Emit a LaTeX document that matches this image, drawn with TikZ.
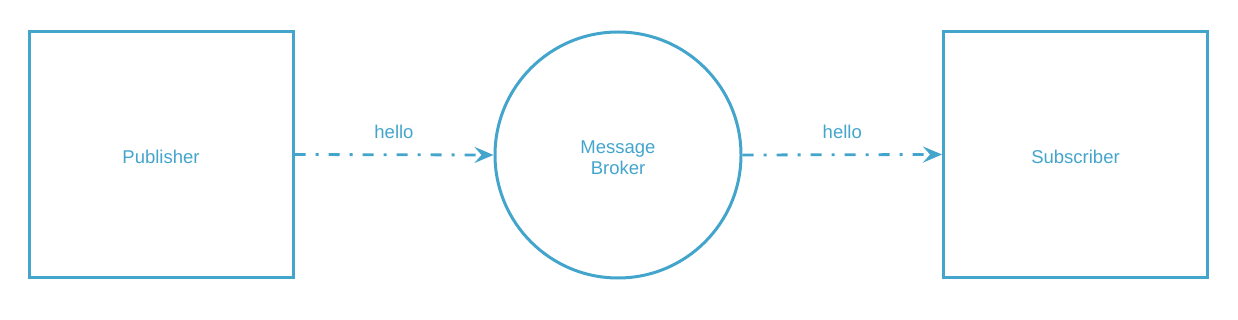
\documentclass[tikz,border=0pt]{standalone}
\usepackage{fontspec}
\setmainfont{Liberation Sans}
\usetikzlibrary{arrows.meta}
\definecolor{bl}{HTML}{44A5CC}
\tikzset{fnt/.style={font=\fontsize{18.5pt}{21.5pt}\selectfont}}
\begin{document}
\begin{tikzpicture}[x=1pt,y=-1pt,
  box/.style={draw=bl,line width=3pt,minimum width=264pt,minimum height=245pt,inner sep=0pt,text=bl,fnt},
  circ/.style={draw=bl,line width=3pt,circle,minimum size=246pt,inner sep=0pt,text=bl,align=center,fnt},
  flow/.style={draw=bl,line width=2.8pt,dash pattern=on 11pt off 10pt on 3pt off 10pt,-{Stealth[length=19pt,width=16pt,inset=7pt]}},
  lbl/.style={text=bl,fnt}]
\useasboundingbox (0,0) rectangle (1238,320);
\node[box] (pub) at (161,154.5) {};
\node[text=bl,fnt] (publbl) at (161,157) {Publisher};
\node[circ] (mb) at (618,155) {};
\node[text=bl,fnt,align=center] (mblbl) at (618,157.5) {Message\\Broker};
\node[box] (sub) at (1075.5,154.5) {};
\node[text=bl,fnt] (sublbl) at (1075.5,157) {Subscriber};
\draw[flow] (pub.east) -- (mb.west) node[midway,above=11pt,lbl] {hello};
\draw[flow] (mb.east) -- (sub.west) node[midway,above=11pt,lbl] {hello};
\end{tikzpicture}
\end{document}
